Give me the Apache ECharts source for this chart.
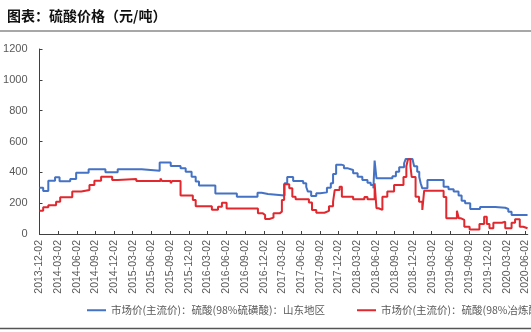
<!DOCTYPE html>
<html><head><meta charset="utf-8">
<script src="https://cdn.jsdelivr.net/npm/echarts@6/dist/echarts.min.js"></script>
<style>html,body{margin:0;padding:0;background:#fff}#c{width:531px;height:332px}</style>
</head><body><div id="c"></div>
<script>
var titleText = '图表：硫酸价格（元/吨）';
var seriesNames = ['市场价(主流价)：硫酸(98%硫磺酸)：山东地区', '市场价(主流价)：硫酸(98%冶炼酸)：山东地区'];
var tickLabels = ['2013-12-02','2014-03-02','2014-06-02','2014-09-02','2014-12-02','2015-03-02','2015-06-02','2015-09-02','2015-12-02','2016-03-02','2016-06-02','2016-09-02','2016-12-02','2017-03-02','2017-06-02','2017-09-02','2017-12-02','2018-03-02','2018-06-02','2018-09-02','2018-12-02','2019-03-02','2019-06-02','2019-09-02','2019-12-02','2020-03-02','2020-06-02'];
var yTicks = [0,200,400,600,800,1000,1200];
var xStart = '2013-12-02', xEnd = '2020-06-13';

var blueDates = ['2013-12-02','2013-12-20','2014-01-14','2014-02-16','2014-03-10','2014-05-01','2014-05-30','2014-07-30','2014-10-20','2014-12-19','2015-04-15','2015-07-12','2015-09-04','2015-10-22','2015-11-16','2015-12-15','2016-01-04','2016-01-20','2016-04-09','2016-07-23','2016-11-01','2016-11-21','2016-12-22','2017-03-13','2017-03-26','2017-04-24','2017-06-12','2017-06-27','2017-07-05','2017-07-21','2017-08-15','2017-09-03','2017-10-06','2017-10-25','2017-11-05','2017-11-20','2017-12-15','2017-12-28','2018-01-17','2018-02-11','2018-03-05','2018-03-28','2018-04-22','2018-05-08','2018-05-21','2018-05-27','2018-06-05','2018-08-22','2018-09-08','2018-09-24','2018-10-18','2018-10-26','2018-11-28','2018-12-06','2018-12-21','2018-12-31','2019-01-07','2019-01-15','2019-02-09','2019-04-29','2019-05-23','2019-06-17','2019-07-11','2019-07-26','2019-08-12','2019-09-06','2019-10-24','2020-01-06','2020-02-24','2020-03-10','2020-03-26','2020-06-12'];
var blueValues = [300,279,346,368,342,357,398,420,400,420,411,463,441,426,404,372,340,315,262,242,268,260,249,329,370,344,329,305,275,247,264,270,300,330,390,450,445,426,415,394,372,350,333,318,296,476,361,375,404,433,459,487,475,440,404,370,329,296,350,307,290,275,250,215,199,162,175,170,162,145,123,120];

var redDates = ['2013-12-02','2013-12-20','2014-01-14','2014-02-21','2014-03-13','2014-05-11','2014-06-24','2014-08-03','2014-08-27','2014-09-29','2014-11-22','2014-12-19','2015-03-20','2015-07-16','2015-07-23','2015-09-04','2015-09-11','2015-10-22','2015-12-21','2016-01-04','2016-03-23','2016-04-22','2016-05-11','2016-06-03','2016-11-03','2016-11-27','2016-12-08','2016-12-29','2017-01-18','2017-02-17','2017-02-28','2017-03-11','2017-04-05','2017-04-20','2017-05-06','2017-07-10','2017-07-25','2017-08-15','2017-09-24','2017-10-16','2017-11-05','2017-11-13','2017-12-07','2017-12-18','2018-02-11','2018-04-07','2018-04-22','2018-05-27','2018-06-05','2018-06-15','2018-07-04','2018-07-28','2018-08-30','2018-10-15','2018-10-29','2018-11-06','2018-11-18','2018-11-24','2018-12-13','2018-12-30','2019-01-15','2019-01-24','2019-04-29','2019-05-12','2019-07-03','2019-07-12','2019-07-23','2019-08-08','2019-09-03','2019-10-21','2019-11-13','2019-11-26','2019-12-09','2019-12-28','2020-02-08','2020-02-24','2020-03-26','2020-04-12','2020-05-05','2020-05-22','2020-06-12'];
var redValues = [151,173,186,210,238,275,285,318,346,372,350,357,344,360,344,330,344,249,221,180,158,177,203,165,134,123,97,106,134,145,221,322,296,242,225,205,156,138,150,180,210,285,307,242,225,240,225,329,167,156,242,275,318,370,440,485,440,370,242,210,156,281,240,102,151,102,91,47,30,65,112,65,37,73,80,37,73,95,47,37,37];

function ts(s){var p=s.split('-');return Date.UTC(+p[0],+p[1]-1,+p[2]);}
function pairs(d,v){return d.map(function(x,i){return [ts(x),v[i]];});}
var tickTs = tickLabels.map(ts);
var labelMap = {}; tickLabels.forEach(function(l,i){labelMap[tickTs[i]]=l;});

var chart = echarts.init(document.getElementById('c'), null, {renderer:'canvas'});
var cjk = '"Noto Sans CJK SC", sans-serif';
var axisColor = '#404040', labelColor = '#595959';
chart.setOption({
  animation:false,
  backgroundColor:'#fff',
  title:{text:titleText,left:7,top:9,padding:0,textStyle:{fontFamily:cjk,fontSize:14,fontWeight:'bold',color:'#111'}},
  graphic:[
    {type:'line',shape:{x1:0,y1:31,x2:531,y2:31},style:{stroke:'#8a8a8a',lineWidth:1.5}},
    {type:'line',shape:{x1:0,y1:328.5,x2:531,y2:328.5},style:{stroke:'#555',lineWidth:1.5}}
  ],
  legend:[
    {data:[seriesNames[0]],left:87,top:305,padding:0,itemWidth:19,itemHeight:2,icon:'rect',itemGap:10,textStyle:{fontFamily:cjk,fontSize:10.5,color:labelColor}},
    {data:[seriesNames[1]],left:357,top:305,padding:0,itemWidth:19,itemHeight:2,icon:'rect',itemGap:10,textStyle:{fontFamily:cjk,fontSize:10.5,color:labelColor}}
  ],
  grid:{left:39.5,right:0,top:49,bottom:98,containLabel:false},
  xAxis:{
    type:'value',min:ts(xStart),max:ts(xEnd),
    axisLine:{lineStyle:{color:axisColor,width:1}},
    axisTick:{show:true,inside:true,length:3,customValues:tickTs,lineStyle:{color:axisColor}},
    axisLabel:{customValues:tickTs,rotate:90,margin:6,fontSize:10.5,color:labelColor,fontFamily:'"Liberation Sans", Arial, sans-serif',
      formatter:function(v){return labelMap[v]||'';}},
    splitLine:{show:false}
  },
  yAxis:{
    type:'value',min:0,max:1200,interval:200,
    axisLine:{show:true,lineStyle:{color:axisColor,width:1}},
    axisTick:{show:true,inside:true,length:3,lineStyle:{color:axisColor}},
    axisLabel:{fontSize:11,color:labelColor,margin:12,fontFamily:'"Liberation Sans", Arial, sans-serif',
      formatter:function(v){return String(v);}},
    splitLine:{show:false}
  },
  series:[
    {name:seriesNames[0],type:'line',step:'end',showSymbol:false,symbol:'none',data:pairs(blueDates,blueValues),lineStyle:{color:'#4472C4',width:2},itemStyle:{color:'#4472C4'}},
    {name:seriesNames[1],type:'line',step:'end',showSymbol:false,symbol:'none',data:pairs(redDates,redValues),lineStyle:{color:'#E0282E',width:2},itemStyle:{color:'#E0282E'}}
  ]
});
</script></body></html>
